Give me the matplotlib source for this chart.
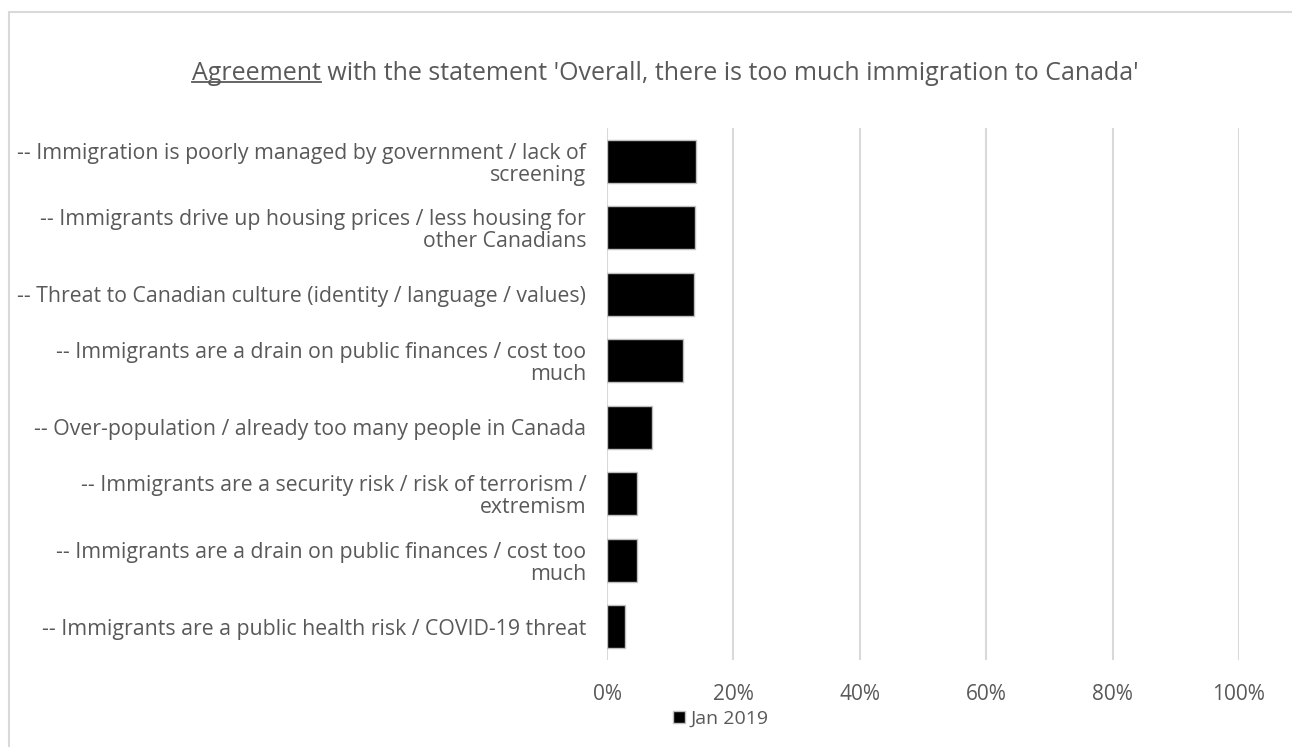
import matplotlib.pyplot as plt
from matplotlib.patches import Rectangle
from matplotlib.ticker import PercentFormatter

# data
categories = [
    "-- Immigration is poorly managed by government / lack of\nscreening",
    "-- Immigrants drive up housing prices / less housing for\nother Canadians",
    "-- Threat to Canadian culture (identity / language / values)",
    "-- Immigrants are a drain on public finances / cost too\nmuch",
    "-- Over-population / already too many people in Canada",
    "-- Immigrants are a security risk / risk of terrorism /\nextremism",
    "-- Immigrants are a drain on public finances / cost too\nmuch",
    "-- Immigrants are a public health risk / COVID-19 threat",
]
jan_2019 = [14.1, 13.9, 13.7, 12.1, 7.1, 4.7, 4.7, 2.9]
series_name = "Jan 2019"
x_ticks = [0, 20, 40, 60, 80, 100]

title_under = "Agreement"
title_rest = " with the statement 'Overall, there is too much immigration to Canada'"

grey = "#595959"
plt.rcParams['font.family'] = ['Open Sans', 'DejaVu Sans']

fig = plt.figure(figsize=(12.92, 7.47), dpi=100)

# chart frame (cropped at right / bottom like the original)
fig.patches.append(Rectangle((8.5 / 1292, -0.1), 1.2, 1 - 12 / 747 + 0.1,
                             transform=fig.transFigure, fill=False,
                             edgecolor="#d9d9d9", linewidth=1.5))

ax = fig.add_axes([607 / 1292, 1 - 660 / 747, (1239 - 607) / 1292, (660 - 128) / 747])

y = list(range(len(categories)))
ax.barh(y, jan_2019, height=0.64, color="black", edgecolor="#bfbfbf",
        linewidth=1.0, label=series_name, zorder=3)
ax.set_ylim(len(categories) - 0.5, -0.5)
ax.set_xlim(0, 100)
ax.set_xticks(x_ticks)
ax.xaxis.set_major_formatter(PercentFormatter(decimals=0))
ax.set_yticks(y)
ax.set_yticklabels(categories, fontsize=15.3, color=grey, ha="right",
                   linespacing=1.05)
ax.tick_params(axis="y", length=0, pad=15)
ax.tick_params(axis="x", length=0, pad=17, labelsize=15, labelcolor=grey)
ax.grid(axis="x", color="#d9d9d9", linewidth=1.5, zorder=0)
for s in ax.spines.values():
    s.set_visible(False)

leg = fig.legend(loc="center", bbox_to_anchor=(721 / 1292, 1 - 719 / 747),
                 frameon=False, fontsize=14, handlelength=0.6, handleheight=0.6,
                 handletextpad=0.3, labelcolor=grey)

# title with underlined first word
tx = fig.text(665.5 / 1292, 1 - 73 / 747, title_under + title_rest, ha="center",
              va="center", fontsize=18, color=grey)
fig.canvas.draw()
r = fig.canvas.get_renderer()
bb = tx.get_window_extent(r)
probe = fig.text(0, 0, title_under, fontsize=18)
w = probe.get_window_extent(r).width
probe.remove()
fig.add_artist(plt.Line2D([bb.x0 / 1292, (bb.x0 + w) / 1292],
                          [(bb.y0 + 4) / 747, (bb.y0 + 4) / 747],
                          transform=fig.transFigure, color=grey, linewidth=1.3))

fig.savefig("out.png", dpi=100)
